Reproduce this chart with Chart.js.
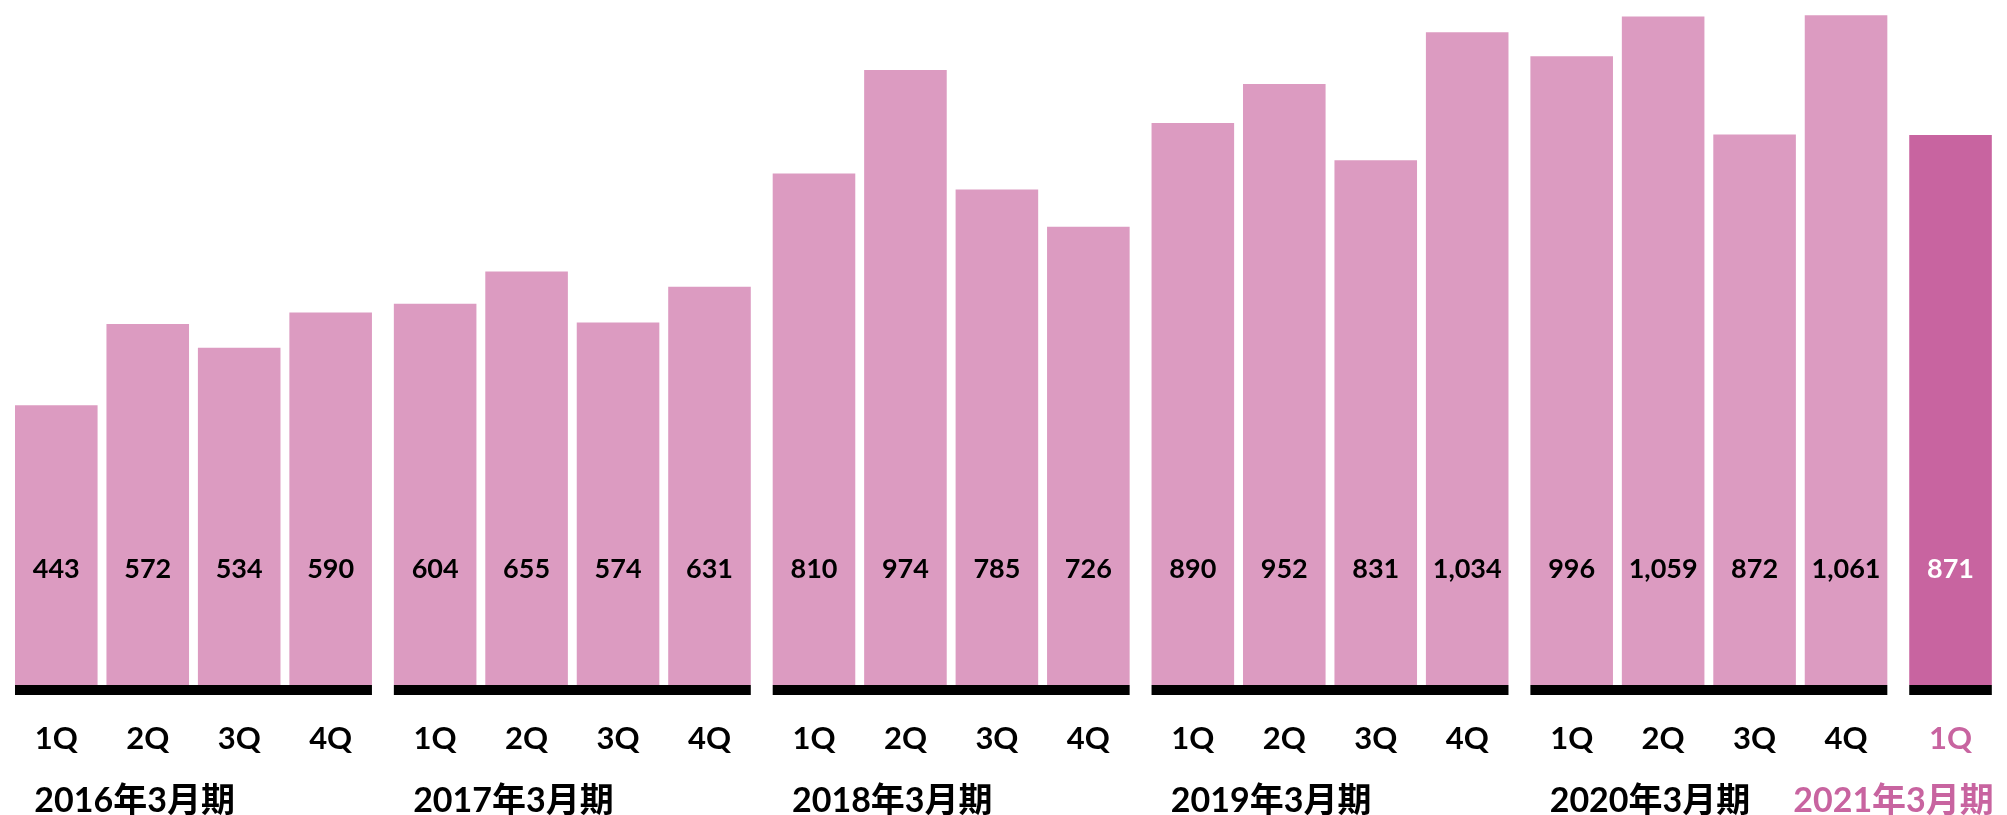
<!DOCTYPE html>
<html>
<head>
<meta charset="utf-8">
<title>四半期売上高</title>
<script src="https://cdn.jsdelivr.net/npm/chart.js@4.4.1/dist/chart.umd.min.js"></script>
<style>
    body { margin: 0; background: #fff; }
    #wrap { width: 2007px; height: 815px; position: relative; }
</style>
</head>
<body>
<div id="wrap"><canvas id="bar-chart"></canvas></div>
<script>
var yearLabels = ['2016年3月期', '2017年3月期', '2018年3月期', '2019年3月期', '2020年3月期', '2021年3月期'];
var quarterLabels = ['1Q', '2Q', '3Q', '4Q'];
var salesValues = [443, 572, 534, 590, 604, 655, 574, 631, 810, 974, 785, 726, 890, 952, 831, 1034, 996, 1059, 872, 1061, 871];

var barColor = '#dc9bc1';
var currentColor = '#c864a0';
var groupGap = 0.1425; // extra space between fiscal years, in bar slots
var lastIndex = salesValues.length - 1;

function barPosition(i) {
    return i + Math.floor(i / 4) * groupGap;
}

document.addEventListener("DOMContentLoaded", function () {
    var points = salesValues.map(function (v, i) {
        return { x: barPosition(i), y: v };
    });

    //labels drawn on top of the bars
    var labelsPlugin = {
        id: 'labels',
        afterDatasetsDraw: function (chart) {
            var ctx = chart.ctx;
            var bars = chart.getDatasetMeta(0).data;
            var bottom = chart.chartArea.bottom;
            ctx.save();

            // black base line under each fiscal year
            ctx.fillStyle = '#000';
            yearLabels.forEach(function (year, g) {
                var first = bars[g * 4];
                var last = bars[Math.min(g * 4 + 3, lastIndex)];
                var left = first.x - first.width / 2;
                var right = last.x + last.width / 2;
                ctx.fillRect(left, bottom, right - left, 10);
            });

            // values inside the bars
            ctx.font = 'bold 27px Lato, "Noto Sans"';
            ctx.textAlign = 'center';
            ctx.textBaseline = 'middle';
            bars.forEach(function (bar, i) {
                ctx.fillStyle = i === lastIndex ? '#fff' : '#000';
                ctx.fillText(salesValues[i].toLocaleString('en-US'), bar.x, bottom - 116);
            });

            // fiscal year names
            ctx.font = 'bold 34px Lato, "Noto Sans CJK JP"';
            yearLabels.forEach(function (year, g) {
                var first = bars[g * 4];
                if (g * 4 + 3 <= lastIndex) {
                    ctx.fillStyle = '#000';
                    ctx.textAlign = 'left';
                    ctx.fillText(year, first.x - 22, bottom + 116);
                } else {
                    ctx.fillStyle = currentColor;
                    ctx.textAlign = 'right';
                    ctx.fillText(year, first.x + first.width / 2 + 2, bottom + 116);
                }
            });
            ctx.restore();
        }
    };

    var ctx1 = document.getElementById('bar-chart');
    if (ctx1) {
        var barChart = new Chart(ctx1.getContext('2d'), {
            type: 'bar',
            data: {
                datasets: [{
                    data: points,
                    backgroundColor: function (c) {
                        return c.dataIndex === lastIndex ? currentColor : barColor;
                    },
                    borderWidth: 0,
                    categoryPercentage: 1,
                    barPercentage: 0.903
                }]
            },
            options: {
                responsive: true,
                maintainAspectRatio: false,
                animation: false,
                layout: { padding: 0 },
                plugins: {
                    legend: { display: false },
                    tooltip: { enabled: false }
                },
                scales: {
                    x: {
                        type: 'linear',
                        offset: false,
                        min: -0.596,
                        max: 21.24,
                        grid: { display: false, drawTicks: false, offset: false },
                        border: { display: false },
                        afterBuildTicks: function (axis) {
                            axis.ticks = salesValues.map(function (v, i) {
                                return { value: barPosition(i) };
                            });
                        },
                        afterFit: function (axis) {
                            axis.height = 130;
                        },
                        ticks: {
                            autoSkip: false,
                            maxRotation: 0,
                            padding: 35,
                            font: { family: 'Lato', size: 31, weight: 'bold' },
                            color: function (c) {
                                return c.index === lastIndex ? currentColor : '#000';
                            },
                            callback: function (value, index) {
                                return quarterLabels[index % 4];
                            }
                        }
                    },
                    y: {
                        display: false,
                        min: 0,
                        max: 1085
                    }
                }
            },
            plugins: [labelsPlugin]
        });
    }
});
</script>
</body>
</html>
